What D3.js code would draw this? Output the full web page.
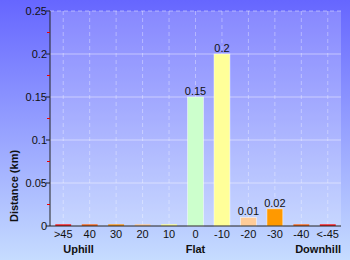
<!DOCTYPE html>
<html lang="en">
<head>
  <meta charset="utf-8">
  <script src="https://d3js.org/d3.v7.min.js"></script>
  <style>
    body { margin: 0; }
    text { font-family: "Liberation Sans", Arial, sans-serif; }
    .tick-label { font-size: 11px; fill: #111; }
    .bar-label { font-size: 11px; fill: #111; }
    .axis-title { font-size: 11px; font-weight: bold; fill: #111; }
  </style>
</head>
<body>
  <script>
    // chart data
    var categories = [">45", "40", "30", "20", "10", "0", "-10", "-20", "-30", "-40", "<-45"];
    var distances = [0.002, 0.002, 0.002, 0.002, 0.002, 0.15, 0.2, 0.01, 0.02, 0.002, 0.002];
    var labels = ["", "", "", "", "", "0.15", "0.2", "0.01", "0.02", "", ""];
    var barColors = ["#ff1a1a", "#ff6a1a", "#ff9a1a", "#ffcc99", "#ffff99", "#ccffcc",
                     "#ffff99", "#ffcc99", "#ff9900", "#ff6a1a", "#ff1a1a"];
    var yTicks = [0, 0.05, 0.1, 0.15, 0.2, 0.25];
    var yMinor = [0.025, 0.075, 0.125, 0.175, 0.225];

    var w = 350, h = 260;
    var plotLeft = 50, plotRight = 341, plotTop = 11, plotBottom = 226;

    var svg = d3.select("body").append("svg")
      .attr("width", w)
      .attr("height", h);

    var defs = svg.append("defs");
    var grad = defs.append("linearGradient")
      .attr("id", "bg")
      .attr("x1", 0).attr("y1", 0).attr("x2", 0).attr("y2", 1);
    grad.append("stop").attr("offset", "0%").attr("stop-color", "#6666ff");
    grad.append("stop").attr("offset", "100%").attr("stop-color", "#c6dcff");

    svg.append("rect")
      .attr("width", w).attr("height", h)
      .attr("fill", "url(#bg)");

    var x = d3.scaleBand()
      .domain(categories)
      .range([plotLeft, plotRight])
      .paddingInner(0.4)
      .paddingOuter(0.2);

    var y = d3.scaleLinear()
      .domain([0, 0.25])
      .range([plotBottom, plotTop]);

    // plot area
    svg.append("rect")
      .attr("x", plotLeft).attr("y", plotTop)
      .attr("width", plotRight - plotLeft).attr("height", plotBottom - plotTop)
      .attr("fill", "#ffffff")
      .attr("fill-opacity", 0.2);

    // horizontal grid
    svg.selectAll("line.hgrid")
      .data(yTicks.slice(1))
      .enter().append("line")
      .attr("x1", plotLeft).attr("x2", plotRight)
      .attr("y1", function (d) { return y(d); })
      .attr("y2", function (d) { return y(d); })
      .attr("stroke", "#ffffff")
      .attr("stroke-opacity", 0.45)
      .attr("stroke-dasharray", function (d) { return d === 0.25 ? "4,3" : null; });

    // vertical dashed grid at category centres
    svg.selectAll("line.vgrid")
      .data(categories)
      .enter().append("line")
      .attr("x1", function (d) { return x(d) + x.bandwidth() / 2; })
      .attr("x2", function (d) { return x(d) + x.bandwidth() / 2; })
      .attr("y1", plotTop).attr("y2", plotBottom)
      .attr("stroke", "#ffffff")
      .attr("stroke-opacity", 0.35)
      .attr("stroke-dasharray", "4,3");

    // bars
    svg.selectAll("rect.bar")
      .data(distances)
      .enter().append("rect")
      .attr("x", function (d, i) { return x(categories[i]); })
      .attr("y", function (d) { return y(d); })
      .attr("width", x.bandwidth())
      .attr("height", function (d) { return plotBottom - y(d); })
      .attr("fill", function (d, i) { return barColors[i]; })
      .attr("stroke", function (d) { return d > 0.005 ? "#ffffff" : "none"; })
      .attr("stroke-opacity", 0.6)
      .attr("stroke-width", 0.8);

    svg.selectAll("text.bar-label")
      .data(distances)
      .enter().append("text")
      .attr("class", "bar-label")
      .attr("x", function (d, i) { return x(categories[i]) + x.bandwidth() / 2; })
      .attr("y", function (d) { return y(d) - 2; })
      .attr("text-anchor", "middle")
      .text(function (d, i) { return labels[i]; });

    // y axis
    svg.append("line")
      .attr("x1", plotLeft).attr("x2", plotLeft)
      .attr("y1", plotTop).attr("y2", plotBottom)
      .attr("stroke", "#222");

    svg.selectAll("line.ytick")
      .data(yTicks)
      .enter().append("line")
      .attr("x1", plotLeft - 4).attr("x2", plotLeft)
      .attr("y1", function (d) { return y(d); })
      .attr("y2", function (d) { return y(d); })
      .attr("stroke", "#222");

    svg.selectAll("line.yminor")
      .data(yMinor)
      .enter().append("line")
      .attr("x1", plotLeft - 3).attr("x2", plotLeft)
      .attr("y1", function (d) { return y(d); })
      .attr("y2", function (d) { return y(d); })
      .attr("stroke", "#ee0000");

    svg.selectAll("text.ylab")
      .data(yTicks)
      .enter().append("text")
      .attr("class", "tick-label")
      .attr("x", plotLeft - 3)
      .attr("y", function (d) { return y(d) + 4; })
      .attr("text-anchor", "end")
      .text(function (d) { return d; });

    // x axis
    svg.append("line")
      .attr("x1", plotLeft).attr("x2", plotRight)
      .attr("y1", plotBottom).attr("y2", plotBottom)
      .attr("stroke", "#222");

    svg.selectAll("text.xlab")
      .data(categories)
      .enter().append("text")
      .attr("class", "tick-label")
      .attr("x", function (d) { return x(d) + x.bandwidth() / 2; })
      .attr("y", 238)
      .attr("text-anchor", "middle")
      .text(function (d) { return d; });

    // titles
    svg.append("text")
      .attr("class", "axis-title")
      .attr("transform", "translate(18,186) rotate(-90)")
      .attr("text-anchor", "middle")
      .text("Distance (km)");

    svg.append("text")
      .attr("class", "axis-title")
      .attr("x", x(categories[0]) + x.bandwidth() / 2)
      .attr("y", 253)
      .text("Uphill");

    svg.append("text")
      .attr("class", "axis-title")
      .attr("x", x("0") + x.bandwidth() / 2)
      .attr("y", 253)
      .attr("text-anchor", "middle")
      .text("Flat");

    svg.append("text")
      .attr("class", "axis-title")
      .attr("x", plotRight)
      .attr("y", 253)
      .attr("text-anchor", "end")
      .text("Downhill");
  </script>
</body>
</html>
